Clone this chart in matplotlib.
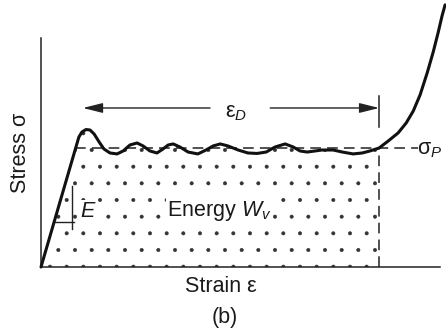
import matplotlib
matplotlib.use("Agg")
import matplotlib.pyplot as plt
import numpy as np

plt.rcParams['font.family'] = ['Liberation Sans', 'DejaVu Sans']
plt.rcParams['mathtext.fontset'] = 'custom'
plt.rcParams['mathtext.rm'] = 'Liberation Sans'
plt.rcParams['mathtext.it'] = 'Liberation Sans:italic'
plt.rcParams['hatch.linewidth'] = 0.4

# normalized units: strain / eps_D, stress / sigma_P
strain = [0.0, 0.112, 0.121, 0.133, 0.145, 0.157, 0.172, 0.186, 0.204, 0.225,
          0.243, 0.263, 0.284, 0.302, 0.322, 0.343, 0.361, 0.376, 0.391, 0.411,
          0.435, 0.464, 0.488, 0.509, 0.530, 0.553, 0.583, 0.612, 0.639, 0.666,
          0.692, 0.722, 0.746, 0.766, 0.787, 0.811, 0.831, 0.864, 0.891, 0.923,
          0.950, 0.973, 1.000, 1.027, 1.056, 1.080, 1.101, 1.121, 1.142, 1.160,
          1.175, 1.186, 1.195]
stress = [0.0, 1.092, 1.134, 1.155, 1.151, 1.118, 1.050, 0.992, 0.958, 0.950,
          0.975, 1.025, 1.042, 1.017, 0.975, 0.958, 0.992, 1.025, 1.034, 1.008,
          0.966, 0.950, 0.983, 1.017, 1.034, 1.017, 0.983, 0.958, 0.954, 0.966,
          1.008, 1.034, 1.008, 0.975, 0.966, 0.975, 0.983, 0.983, 0.966, 0.950,
          0.958, 0.975, 1.000, 1.059, 1.126, 1.210, 1.311, 1.445, 1.630, 1.807,
          1.975, 2.109, 2.202]

eps_D = 1.0
sigma_P = 1.0

strain = np.array(strain)
stress = np.array(stress)

fig = plt.figure(figsize=(4.46, 3.32), dpi=100)
ax = fig.add_axes([41/446, 65/332, 399/446, 229/332])
ax.set_xlim(0, 1.180)
ax.set_ylim(0, 1.924)
for s in ['top', 'right']:
    ax.spines[s].set_visible(False)
for s in ['left', 'bottom']:
    ax.spines[s].set_color('#222222')
    ax.spines[s].set_linewidth(1.1)
ax.set_xticks([])
ax.set_yticks([])

ink = '#111111'

# dotted energy area
m = strain <= eps_D
ax.fill_between(strain[m], stress[m], 0, facecolor='none', edgecolor='#333333',
                hatch='.', linewidth=0, zorder=1)

# curve
ax.plot(strain, stress, color=ink, lw=2.2, clip_on=False, zorder=3,
        solid_capstyle='round', solid_joinstyle='round')

# plateau stress line
ax.plot([0.10, 1.115], [sigma_P, sigma_P], color='#222222', lw=1.1,
        dashes=(7, 4), clip_on=False, zorder=2)
# densification strain vertical
ax.plot([eps_D, eps_D], [0, sigma_P], color='#222222', lw=1.1,
        dashes=(7, 4), clip_on=False, zorder=2)
ax.plot([eps_D, eps_D], [1.176, 1.437], color='#222222', lw=1.1,
        clip_on=False, zorder=2)

# eps_D arrows
ya = 1.336
ap = dict(arrowstyle='-|>,head_length=1.2,head_width=0.3', lw=1.0,
          color='#222222', shrinkA=0, shrinkB=0)
ax.annotate('', xy=(0.124, ya), xytext=(0.50, ya), arrowprops=ap)
ax.annotate('', xy=(eps_D, ya), xytext=(0.678, ya), arrowprops=ap)

fs = 15.5
tc = '#1a1a1a'
bb = dict(facecolor='white', edgecolor='none', pad=1.0)
ax.text(0.577, 1.30, 'ε$_D$', fontsize=fs, color=tc, ha='center', va='center')
ax.text(1.112, 0.985, 'σ$_P$', fontsize=fs, color=tc, ha='left', va='center',
        clip_on=False)
ax.text(0.527, 0.47, 'Energy $W_v$', fontsize=fs, color=tc, ha='center',
        va='center', bbox=bb, zorder=4)
ax.text(0.115, 0.47, '$E$', fontsize=fs, color=tc, ha='left', va='center',
        bbox=dict(facecolor='white', edgecolor='none', pad=0.5), zorder=4)

# modulus indicator
ax.plot([0.092, 0.092], [0.319, 0.681], color='#222222', lw=1.0, zorder=5)
ax.plot([0.041, 0.098], [0.378, 0.378], color='#222222', lw=1.0, zorder=5)

fig.text(221/446, 1 - 287/332, 'Strain ε', fontsize=fs, color=tc,
         ha='center', va='center')
fig.text(225/446, 1 - 318/332, '(b)', fontsize=fs, color=tc,
         ha='center', va='center')
fig.text(20/446, 1 - 153/332, 'Stress σ', fontsize=fs, color=tc,
         ha='center', va='center', rotation=90)

fig.savefig('out.png', dpi=100)
